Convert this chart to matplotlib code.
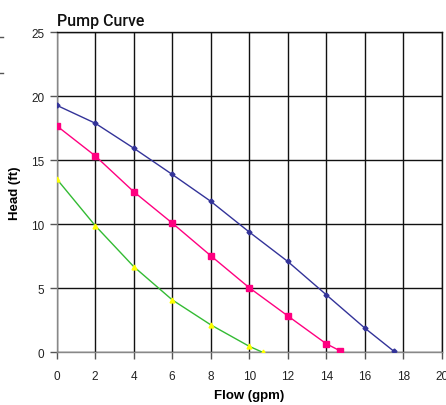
import matplotlib
matplotlib.use("Agg")
import matplotlib.pyplot as plt
from matplotlib.lines import Line2D

# Data
blue_x = [0, 2, 4, 6, 8, 10, 12, 14, 16, 17.5]
blue_y = [19.3, 17.9, 15.95, 13.9, 11.8, 9.4, 7.1, 4.5, 1.9, 0.1]
pink_x = [0, 2, 4, 6, 8, 10, 12, 14, 14.7]
pink_y = [17.7, 15.35, 12.55, 10.1, 7.55, 5.05, 2.85, 0.67, 0.13]
green_x = [0, 2, 4, 6, 8, 10, 10.7]
green_y = [13.55, 9.9, 6.7, 4.1, 2.15, 0.47, 0.0]
xticks = list(range(0, 21, 2))
yticks = [0, 5, 10, 15, 20, 25]

plt.rcParams['font.family'] = ['Liberation Sans', 'DejaVu Sans']

fig = plt.figure(figsize=(4.46, 4.06), dpi=100)
ax = fig.add_axes([0.127, 0.1298, 0.9904 - 0.127, 0.918 - 0.1298])

ax.plot(blue_x, blue_y, color='#333399', lw=1, marker='D', ms=2.5,
        mfc='#333399', mec='#333399', zorder=3)
ax.plot(pink_x, pink_y, color='#FF0080', lw=1, marker='s', ms=4,
        mfc='#FF0080', mec='#FF0080', zorder=3)
ax.plot(green_x, green_y, color='#33BB33', lw=1, marker='^', ms=3.5,
        mfc='#FFFF00', mec='#FFFF00', zorder=3)

ax.set_xlim(0, 20)
ax.set_ylim(0, 25)
ax.set_xticks(xticks)
ax.set_yticks(yticks)
ax.grid(True, color='#111111', lw=1)
ax.set_axisbelow(True)
for s in ax.spines.values():
    s.set_color('#111111')
    s.set_linewidth(1)
ax.spines['left'].set_color('#888888')
ax.spines['bottom'].set_color('#888888')
ax.tick_params(axis='both', direction='out', length=5, width=1, colors='#555555',
               labelcolor='#222222', labelsize=8.5)
ax.tick_params(axis='x', pad=8)
ax.tick_params(axis='y', pad=4)

ax.set_xlabel('Flow (gpm)', fontsize=9.5, fontweight='bold', labelpad=5)
ax.set_ylabel('Head (ft)', fontsize=9.5, fontweight='bold', labelpad=7)

fig.text(0.127, 0.937, 'Pump Curve', fontsize=11.5, family=['Roboto', 'DejaVu Sans'],
         fontweight='medium', ha='left', va='baseline', color='#111111')

# small marks at left edge
for yy in [38, 74]:
    fig.add_artist(Line2D([0, 3 / 446], [1 - yy / 406] * 2, color='#555555', lw=1))

fig.savefig('out.png', dpi=100)
